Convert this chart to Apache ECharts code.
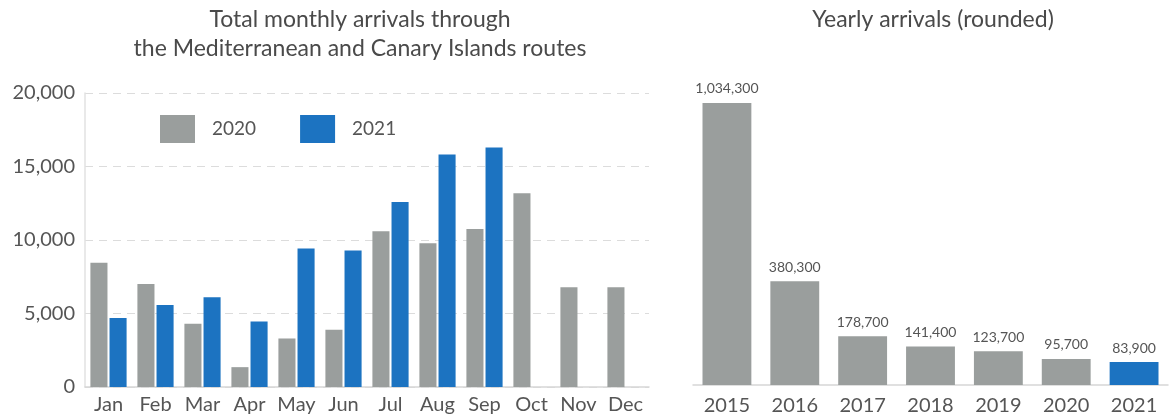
<!DOCTYPE html>
<html>
<head>
<meta charset="utf-8">
<script src="https://cdn.jsdelivr.net/npm/echarts@6/dist/echarts.min.js"></script>
<style>
  html, body { margin: 0; padding: 0; background: #fff; }
  #chart { width: 1172px; height: 419px; }
</style>
</head>
<body>
<div id="chart"></div>
<script>
// Monthly arrivals
const months = ['Jan', 'Feb', 'Mar', 'Apr', 'May', 'Jun', 'Jul', 'Aug', 'Sep', 'Oct', 'Nov', 'Dec'];
const arrivals2020 = [8450, 7000, 4300, 1350, 3300, 3900, 10600, 9780, 10750, 13180, 6780, 6780];
const arrivals2021 = [4700, 5580, 6100, 4450, 9430, 9280, 12590, 15820, 16290, null, null, null];
const monthlyTicks = [0, 5000, 10000, 15000, 20000];

// Yearly arrivals (rounded)
const years = ['2015', '2016', '2017', '2018', '2019', '2020', '2021'];
const yearlyArrivals = [1034300, 380300, 178700, 141400, 123700, 95700, 83900];

const GREY = '#9a9e9d';
const BLUE = '#1c73c1';
const TEXT = '#555555';
const FONT = 'Lato, "Open Sans", sans-serif';

const fmt = v => Number(v).toLocaleString('en-US');

const chart = echarts.init(document.getElementById('chart'), null, { renderer: 'canvas' });

chart.setOption({
  animation: false,
  textStyle: { fontFamily: FONT },
  title: [
    {
      text: 'Total monthly arrivals through\nthe Mediterranean and Canary Islands routes',
      left: 360, top: 5, textAlign: 'center', padding: 0,
      textStyle: { fontFamily: FONT, fontSize: 23, fontWeight: 'normal', color: '#4a4a4a', lineHeight: 29, align: 'center' }
    },
    {
      text: 'Yearly arrivals (rounded)',
      left: 933, top: 5, textAlign: 'center', padding: 0,
      textStyle: { fontFamily: FONT, fontSize: 23, fontWeight: 'normal', color: '#4a4a4a', lineHeight: 29 }
    }
  ],
  legend: {
    left: 160, top: 115, padding: 0,
    itemWidth: 35, itemHeight: 28, itemGap: 44,
    icon: 'rect',
    data: ['2020', '2021'],
    textStyle: { fontFamily: FONT, fontSize: 19, color: TEXT, padding: [0, 0, 0, 12] }
  },
  grid: [
    { left: 85, right: 523, top: 93, bottom: 32 },
    { left: 693, right: 4, top: 85, bottom: 34 }
  ],
  xAxis: [
    {
      gridIndex: 0, type: 'category', data: months,
      axisLine: { lineStyle: { color: '#d6d6d6', width: 1.5 } },
      axisTick: { show: false },
      axisLabel: { color: TEXT, fontSize: 20, fontFamily: FONT, margin: 8, interval: 0 }
    },
    {
      gridIndex: 1, type: 'category', data: years,
      axisLine: { lineStyle: { color: '#d6d6d6', width: 1.5 } },
      axisTick: { show: false },
      axisLabel: { color: TEXT, fontSize: 20, fontFamily: FONT, margin: 11, interval: 0 }
    }
  ],
  yAxis: [
    {
      gridIndex: 0, type: 'value',
      min: monthlyTicks[0], max: monthlyTicks[monthlyTicks.length - 1],
      interval: monthlyTicks[1] - monthlyTicks[0],
      axisLine: { show: true, lineStyle: { color: '#e2e2e2', width: 1.5 } },
      axisTick: { show: false },
      axisLabel: {
        color: TEXT, fontSize: 20, fontFamily: FONT, margin: 10,
        padding: [7, 0, 0, 0],
        formatter: v => fmt(v)
      },
      splitLine: { lineStyle: { color: '#dcdcdc', type: [8, 6], width: 1 } }
    },
    {
      gridIndex: 1, type: 'value', min: 0, max: 1100000,
      show: false,
      splitLine: { show: false }
    }
  ],
  series: [
    {
      name: '2020', type: 'bar', xAxisIndex: 0, yAxisIndex: 0,
      data: arrivals2020,
      itemStyle: { color: GREY },
      barGap: '12%', barCategoryGap: '23%'
    },
    {
      name: '2021', type: 'bar', xAxisIndex: 0, yAxisIndex: 0,
      data: arrivals2021,
      itemStyle: { color: BLUE },
      barGap: '12%', barCategoryGap: '23%'
    },
    {
      name: 'Yearly', type: 'bar', xAxisIndex: 1, yAxisIndex: 1,
      data: yearlyArrivals,
      barCategoryGap: '28%',
      itemStyle: { color: p => (p.dataIndex === yearlyArrivals.length - 1 ? BLUE : GREY) },
      label: {
        show: true, position: 'top', distance: 7,
        color: TEXT, fontSize: 14, fontFamily: FONT,
        formatter: p => fmt(p.value)
      }
    }
  ]
});
</script>
</body>
</html>
